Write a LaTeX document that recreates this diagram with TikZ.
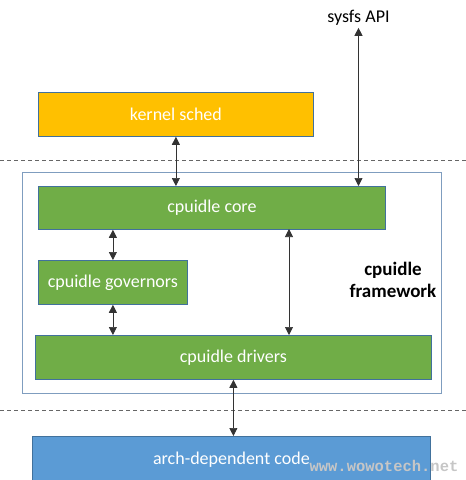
\documentclass[tikz,border=0pt]{standalone}
\usepackage{fontspec}
\setmainfont{Carlito}
\newfontfamily\wmfont{Liberation Mono}
\usetikzlibrary{arrows.meta}
\definecolor{schedorange}{HTML}{FFC000}
\definecolor{idlegreen}{HTML}{70AD47}
\definecolor{archblue}{HTML}{5B9BD5}
\definecolor{boxedge}{HTML}{41719C}
\definecolor{frameedge}{HTML}{7F9DBF}
\tikzset{
  block/.style={draw=boxedge, line width=0.8pt, text=white, inner sep=0pt,
    font=\fontsize{18}{20}\selectfont, anchor=north west},
  biarrow/.style={draw=black!80, line width=0.7pt,
    {Triangle[length=8pt,width=8pt]}-{Triangle[length=8pt,width=8pt]}},
  layerline/.style={draw=black!60, dashed, dash pattern=on 4pt off 3pt, line width=0.7pt}
}
\begin{document}
\begin{tikzpicture}[x=1pt,y=-1pt]
\useasboundingbox (0,0) rectangle (466,480);
\node (sysfs) [font=\fontsize{18}{20}\selectfont, inner sep=2pt] at (358.5,18) {sysfs API};
\node (sched) [block, fill=schedorange, minimum width=275pt, minimum height=44pt] at (38,92) {kernel sched};
\draw [layerline] (0,160) -- (466,160);
\draw [frameedge, line width=0.8pt] (22,172) rectangle (441,393);
\node (core) [block, fill=idlegreen, minimum width=347pt, minimum height=43pt] at (38,186) {cpuidle core};
\node (gov) [block, fill=idlegreen, minimum width=149pt, minimum height=44pt] at (38,260) {cpuidle governors};
\node (drv) [block, fill=idlegreen, minimum width=396pt, minimum height=44pt] at (35,335) {cpuidle drivers};
\node (fw) [font=\bfseries\fontsize{19}{22}\selectfont, align=center] at (393,280) {cpuidle\\framework};
\draw [layerline] (0,410) -- (466,410);
\node (arch) [block, fill=archblue, minimum width=398pt, minimum height=46pt] at (32,436) {arch-dependent code};
\node (mark) [font=\wmfont\bfseries\fontsize{15.5}{17}\selectfont, text=gray!45] at (384,466) {www.wowotech.net};
\coordinate (coreside) at (289,229);
% connectors
\draw [biarrow] (sysfs.south) -- (sysfs.south |- core.north);
\draw [biarrow] (sched.south) -- (sched.south |- core.north);
\draw [biarrow] (gov.north) -- (gov.north |- core.south);
\draw [biarrow] (gov.south) -- (gov.south |- drv.north);
\draw [biarrow] (coreside) -- (coreside |- drv.north);
\draw [biarrow] (drv.south) -- (drv.south |- arch.north);
\end{tikzpicture}
\end{document}
